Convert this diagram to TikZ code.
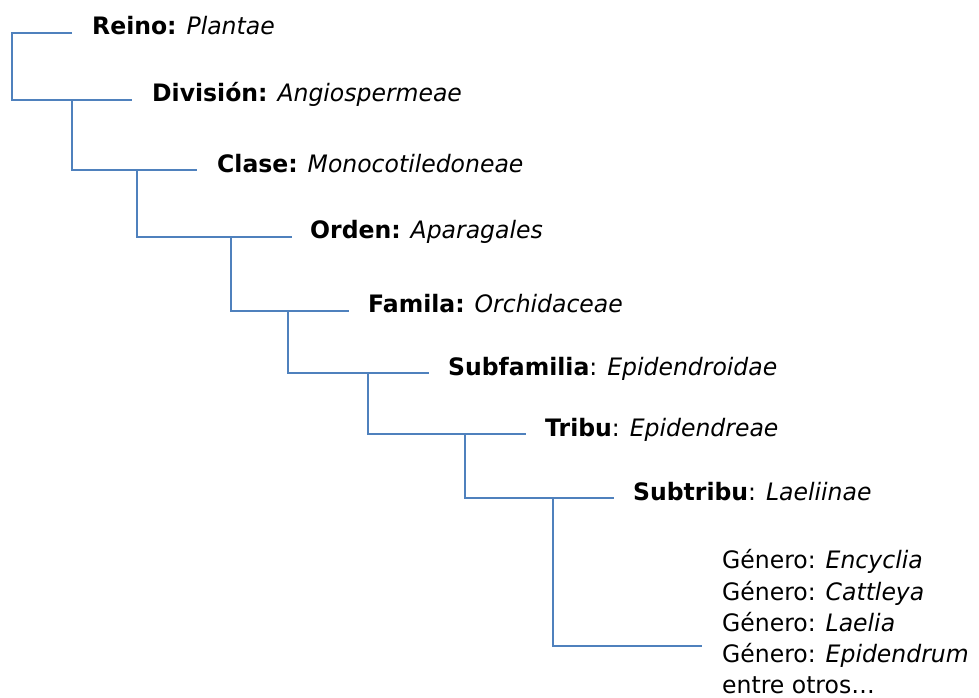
\documentclass[tikz,border=0pt]{standalone}
\usepackage{fontspec}
\setmainfont{DejaVu Sans}[FakeStretch=0.98]
\usetikzlibrary{calc}
\definecolor{lineblue}{HTML}{4F81BD}
\begin{document}
\begin{tikzpicture}[x=1pt,y=-1pt,
  conn/.style={draw=lineblue, line width=1.5pt},
  lbl/.style={anchor=base west, inner sep=0pt, font=\fontsize{24}{31}\selectfont}]
\useasboundingbox (0,0) rectangle (979,698);
% labels
\node[lbl] (reino) at (92,35) {\textbf{Reino:} \textit{Plantae}};
\node[lbl] (division) at (152,102) {\textbf{División:} \textit{Angiospermeae}};
\node[lbl] (clase) at (217,172) {\textbf{Clase:} \textit{Monocotiledoneae}};
\node[lbl] (orden) at (310,238) {\textbf{Orden:} \textit{Aparagales}};
\node[lbl] (familia) at (368,312) {\textbf{Famila:} \textit{Orchidaceae}};
\node[lbl] (subfam) at (448,375) {\textbf{Subfamilia}: \textit{Epidendroidae}};
\node[lbl] (tribu) at (545,436) {\textbf{Tribu}: \textit{Epidendreae}};
\node[lbl] (subtribu) at (633,500) {\textbf{Subtribu}: \textit{Laeliinae}};
\node[lbl] (g1) at (722,568) {Género: \textit{Encyclia}};
\node[lbl] (g2) at (722,600) {Género: \textit{Cattleya}};
\node[lbl] (g3) at (722,631) {Género: \textit{Laelia}};
\node[lbl] (g4) at (722,662) {Género: \textit{Epidendrum}};
\node[lbl] (g5) at (722,693) {entre otros…};
% line ends
\coordinate (e0) at ($(reino.base west)+(-20,-2)$);
\coordinate (e1) at ($(division.base west)+(-20,-2)$);
\coordinate (e2) at ($(clase.base west)+(-20,-2)$);
\coordinate (e3) at ($(orden.base west)+(-18,-1)$);
\coordinate (e4) at ($(familia.base west)+(-19,-1)$);
\coordinate (e5) at ($(subfam.base west)+(-19,-2)$);
\coordinate (e6) at ($(tribu.base west)+(-19,-2)$);
\coordinate (e7) at ($(subtribu.base west)+(-19,-2)$);
\coordinate (e8) at (702,646);
% branch points
\coordinate (v0) at (12,33);
\coordinate (v1) at (72,100);
\coordinate (v2) at (137,170);
\coordinate (v3) at (231,237);
\coordinate (v4) at (288,311);
\coordinate (v5) at (368,373);
\coordinate (v6) at (465,434);
\coordinate (v7) at (553,498);
% connectors
\draw[conn] (e0) -- (v0) |- (e1);
\draw[conn] (v1) |- (e2);
\draw[conn] (v2) |- (e3);
\draw[conn] (v3) |- (e4);
\draw[conn] (v4) |- (e5);
\draw[conn] (v5) |- (e6);
\draw[conn] (v6) |- (e7);
\draw[conn] (v7) |- (e8);
\end{tikzpicture}
\end{document}
